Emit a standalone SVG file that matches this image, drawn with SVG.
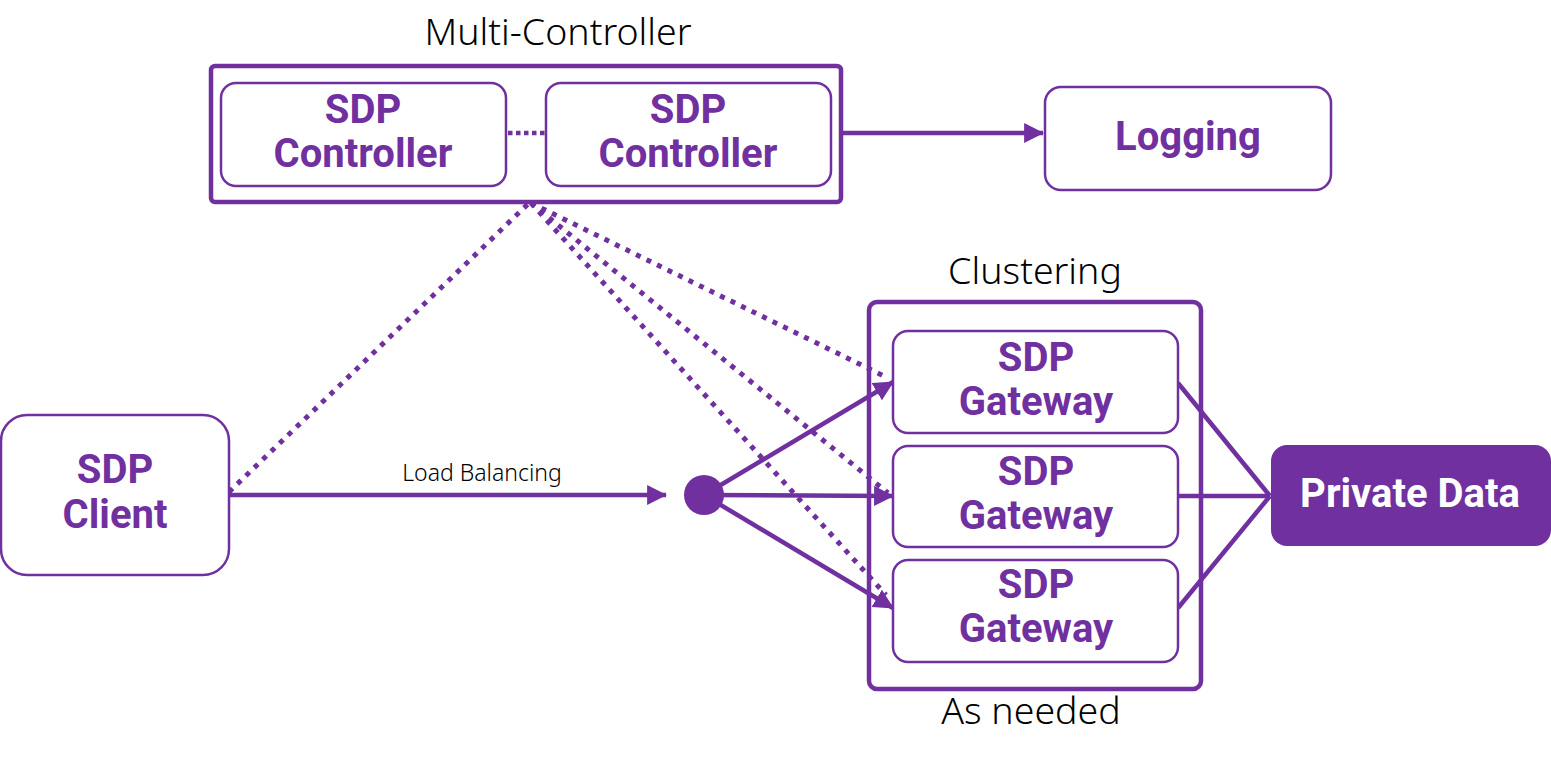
<svg xmlns="http://www.w3.org/2000/svg" width="1551" height="761" viewBox="0 0 1551 761">
<style>
.box{fill:#fff;stroke:#7030a0;stroke-width:2.5}
.outer{fill:none;stroke:#7030a0;stroke-width:4.5}
.lbl{font-family:Roboto,"Liberation Sans",sans-serif;font-weight:bold;font-size:40px;fill:#7030a0;text-anchor:middle}
.title{font-family:"Noto Sans","Liberation Sans",sans-serif;font-weight:300;font-size:37.5px;fill:#000;text-anchor:middle}
.small{font-family:"Noto Sans","Liberation Sans",sans-serif;font-weight:300;font-size:23px;fill:#000;text-anchor:middle}
.line{stroke:#7030a0;stroke-width:4.5;fill:none}
.dot{stroke:#7030a0;stroke-width:5;fill:none;stroke-dasharray:5 6.7}
</style>
<defs>
<marker id="ah" markerUnits="userSpaceOnUse" markerWidth="20" markerHeight="20" viewBox="0 0 18 18" refX="17" refY="9" orient="auto">
<path d="M0,0 L18,9 L0,18 Z" fill="#7030a0"/>
</marker>
</defs>
<g id="connectors">
<line class="dot" x1="229" y1="492" x2="529" y2="203"/>
<line class="dot" x1="531" y1="203" x2="888" y2="378"/>
<line class="dot" x1="531" y1="203" x2="888" y2="493"/>
<line class="dot" x1="531" y1="203" x2="886" y2="595"/>
<line x1="508" y1="133" x2="545" y2="133" stroke="#7030a0" stroke-width="4.5" stroke-dasharray="4.5 3.5"/>
<line class="line" x1="843" y1="133" x2="1043" y2="133" marker-end="url(#ah)"/>
<line class="line" x1="229" y1="495" x2="666" y2="495" marker-end="url(#ah)"/>
<line class="line" x1="704" y1="495" x2="893" y2="382" marker-end="url(#ah)"/>
<line class="line" x1="704" y1="495" x2="893" y2="496" marker-end="url(#ah)"/>
<line class="line" x1="704" y1="495" x2="893" y2="608" marker-end="url(#ah)"/>
<line class="line" x1="1178" y1="383" x2="1270" y2="496"/>
<line class="line" x1="1178" y1="496" x2="1270" y2="496"/>
<line class="line" x1="1178" y1="608" x2="1270" y2="496"/>
<circle cx="704" cy="495" r="20" fill="#7030a0"/>
<text class="small" x="482" y="481">Load Balancing</text>
</g>
<g id="multi-controller">
<text class="title" x="558" y="45">Multi-Controller</text>
<rect class="outer" x="211" y="66" width="630" height="136" rx="4"/>
</g>
<g id="controller1">
<rect class="box" x="221" y="83" width="285" height="103" rx="15"/>
<text class="lbl" x="363" y="123">SDP</text>
<text class="lbl" x="363" y="167">Controller</text>
</g>
<g id="controller2">
<rect class="box" x="546" y="83" width="285" height="103" rx="15"/>
<text class="lbl" x="688" y="123">SDP</text>
<text class="lbl" x="688" y="167">Controller</text>
</g>
<g id="logging">
<rect class="box" x="1045" y="87" width="286" height="103" rx="16"/>
<text class="lbl" x="1188" y="150">Logging</text>
</g>
<g id="client">
<rect class="box" x="1" y="415" width="228" height="160" rx="26"/>
<text class="lbl" x="115" y="483">SDP</text>
<text class="lbl" x="115" y="528">Client</text>
</g>
<g id="cluster">
<text class="title" x="1035" y="284">Clustering</text>
<rect class="outer" x="869" y="302" width="332" height="387" rx="8"/>
<text class="title" x="1031" y="724">As needed</text>
</g>
<g id="gateway1">
<rect class="box" x="893" y="331" width="285" height="102" rx="15"/>
<text class="lbl" x="1036" y="371">SDP</text>
<text class="lbl" x="1036" y="415">Gateway</text>
</g>
<g id="gateway2">
<rect class="box" x="893" y="446" width="285" height="101" rx="15"/>
<text class="lbl" x="1036" y="485">SDP</text>
<text class="lbl" x="1036" y="529">Gateway</text>
</g>
<g id="gateway3">
<rect class="box" x="893" y="560" width="285" height="102" rx="15"/>
<text class="lbl" x="1036" y="598">SDP</text>
<text class="lbl" x="1036" y="642">Gateway</text>
</g>
<g id="private-data">
<rect x="1271" y="445" width="280" height="101" rx="16" fill="#7030a0"/>
<text class="lbl" x="1410" y="507" style="fill:#fff">Private Data</text>
</g>
</svg>
